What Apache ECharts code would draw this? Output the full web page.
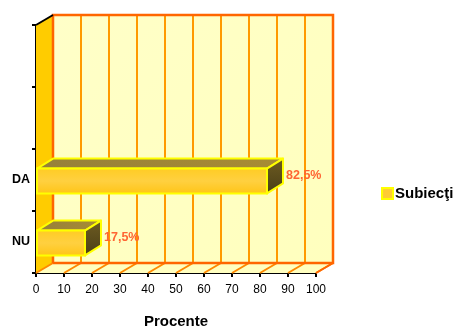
<!DOCTYPE html>
<html>
<head>
<meta charset="utf-8">
<style>
  html, body { margin: 0; padding: 0; background: #ffffff; }
  #chart { width: 459px; height: 329px; }
</style>
<script src="https://cdn.jsdelivr.net/npm/echarts@6/dist/echarts.min.js"></script>
</head>
<body>
<div id="chart"></div>
<script>
// Categories on the vertical axis, bottom to top
const categories = ['NU', 'DA', '', ''];
// Percentage of respondents per answer
const values = [17.5, 82.5];
const seriesName = 'Subiecţi';
// Percent scale ticks
const xTicks = [0, 10, 20, 30, 40, 50, 60, 70, 80, 90, 100];

const FONT = 'Liberation Sans, Arial, sans-serif';
const WALL_DX = 17, WALL_DY = 10;   // depth of the chart box
const BAR_DX = 16, BAR_DY = 10;     // depth of each bar

const chart = echarts.init(document.getElementById('chart'), null, { renderer: 'canvas' });

// Back wall, side wall, floor and gridlines of the 3D box
function renderBox(params, api) {
  const cs = params.coordSys;
  const L = cs.x, T = cs.y, R = cs.x + cs.width, B = cs.y + cs.height;
  const children = [];
  // side wall
  children.push({
    type: 'polygon',
    shape: { points: [[L, T], [L + WALL_DX, T - WALL_DY], [L + WALL_DX, B - WALL_DY], [L, B]] },
    style: { fill: '#FFCC00', stroke: null }
  });
  // floor
  children.push({
    type: 'polygon',
    shape: { points: [[L, B], [L + WALL_DX, B - WALL_DY], [R + WALL_DX, B - WALL_DY], [R, B]] },
    style: { fill: '#FFFFC0', stroke: null }
  });
  // back wall
  children.push({
    type: 'rect',
    shape: { x: L + WALL_DX, y: T - WALL_DY, width: R - L, height: B - T },
    style: {
      fill: new echarts.graphic.LinearGradient(0, 0, 1, 1, [
        { offset: 0, color: '#FFFFC8' },
        { offset: 1, color: '#FFFFBE' }
      ]),
      stroke: null
    }
  });
  // gridlines on the back wall and floor
  xTicks.forEach(function (t) {
    const x = api.coord([t, 0])[0];
    if (t > xTicks[0] && t < xTicks[xTicks.length - 1]) {
      children.push({
        type: 'line',
        shape: { x1: x + WALL_DX, y1: T - WALL_DY, x2: x + WALL_DX, y2: B - WALL_DY },
        style: { stroke: '#FF9900', lineWidth: 2 }
      });
    }
    children.push({
      type: 'line',
      shape: { x1: x, y1: B, x2: x + WALL_DX, y2: B - WALL_DY },
      style: { stroke: '#FF8800', lineWidth: 2 }
    });
  });
  // wall edges
  children.push({
    type: 'polyline',
    shape: { points: [[L + WALL_DX, B - WALL_DY], [L + WALL_DX, T - WALL_DY], [R + WALL_DX, T - WALL_DY], [R + WALL_DX, B - WALL_DY], [L + WALL_DX, B - WALL_DY]] },
    style: { stroke: '#FF6600', lineWidth: 2.5, fill: null }
  });
  children.push({
    type: 'line',
    shape: { x1: R, y1: B, x2: R + WALL_DX, y2: B - WALL_DY },
    style: { stroke: '#FF6600', lineWidth: 2 }
  });
  children.push({
    type: 'line',
    shape: { x1: L, y1: T, x2: L + WALL_DX, y2: T - WALL_DY },
    style: { stroke: '#000000', lineWidth: 2 }
  });
  return { type: 'group', children: children };
}

// A 3D bar: front face, top face and end face, plus the value label
function renderBar(params, api) {
  const val = api.value(0);
  const cat = api.value(1);
  const start = api.coord([0, cat]);
  const end = api.coord([val, cat]);
  const band = api.size([0, 1])[1];
  const half = band * 0.2;
  const yTop = start[1] - half + 1;
  const yBot = start[1] + half + 1;
  const x0 = start[0] + 1, x1 = end[0];
  const edge = '#FFFF00';
  const label = String(val).replace('.', ',') + '%';
  return {
    type: 'group',
    children: [
      {
        type: 'polygon',
        shape: { points: [[x0, yTop], [x0 + BAR_DX, yTop - BAR_DY], [x1 + BAR_DX, yTop - BAR_DY], [x1, yTop]] },
        style: {
          fill: new echarts.graphic.LinearGradient(0, 0, 1, 0, [
            { offset: 0, color: '#96803A' },
            { offset: 1, color: '#A88C34' }
          ]),
          stroke: edge, lineWidth: 2, lineJoin: 'round'
        }
      },
      {
        type: 'polygon',
        shape: { points: [[x1, yTop], [x1 + BAR_DX, yTop - BAR_DY], [x1 + BAR_DX, yBot - BAR_DY], [x1, yBot]] },
        style: {
          fill: new echarts.graphic.LinearGradient(0, 0, 0, 1, [
            { offset: 0, color: '#6E5C22' },
            { offset: 1, color: '#4A3E16' }
          ]),
          stroke: edge, lineWidth: 2, lineJoin: 'round'
        }
      },
      {
        type: 'rect',
        shape: { x: x0, y: yTop, width: x1 - x0, height: yBot - yTop },
        style: {
          fill: new echarts.graphic.LinearGradient(0, 0, 0, 1, [
            { offset: 0, color: '#FFCC22' },
            { offset: 0.5, color: '#FFD040' },
            { offset: 1, color: '#FFC414' }
          ]),
          stroke: edge, lineWidth: 2
        }
      },
      {
        type: 'text',
        style: {
          x: x1 + BAR_DX + 3,
          y: (yTop + yBot - BAR_DY) / 2,
          text: label,
          fill: '#FF6633',
          font: 'bold 12.5px ' + FONT,
          verticalAlign: 'middle',
          align: 'left'
        }
      }
    ]
  };
}

const option = {
  backgroundColor: '#ffffff',
  animation: false,
  grid: { left: 36, right: 143, top: 25, bottom: 56, containLabel: false, outerBoundsMode: 'none' },
  legend: {
    data: [seriesName],
    left: 381,
    top: 186,
    padding: 0,
    orient: 'vertical',
    icon: 'rect',
    itemWidth: 11,
    itemHeight: 11,
    itemGap: 4,
    itemStyle: { color: '#FFCC33', borderColor: '#FFFF00', borderWidth: 2 },
    textStyle: { fontFamily: FONT, fontWeight: 'bold', fontSize: 15, color: '#000000', padding: [0, 0, 0, -3] }
  },
  xAxis: {
    type: 'value',
    min: 0,
    max: 100,
    interval: 10,
    name: 'Procente',
    nameLocation: 'middle',
    nameGap: 41,
    nameTextStyle: { fontFamily: FONT, fontWeight: 'bold', fontSize: 15, color: '#000000' },
    axisLine: { show: true, lineStyle: { color: '#000000', width: 2 } },
    axisTick: { show: true, length: 4, lineStyle: { color: '#000000', width: 2 } },
    axisLabel: { fontFamily: FONT, fontSize: 12, color: '#000000', margin: 11 },
    splitLine: { show: false }
  },
  yAxis: {
    type: 'category',
    data: categories,
    boundaryGap: true,
    axisLine: { show: true, lineStyle: { color: '#000000', width: 2 } },
    axisTick: { show: true, length: 4, lineStyle: { color: '#000000', width: 2 } },
    axisLabel: { fontFamily: FONT, fontWeight: 'bold', fontSize: 12.5, color: '#000000', margin: 6 },
    splitLine: { show: false }
  },
  series: [
    {
      name: 'box',
      type: 'custom',
      renderItem: renderBox,
      data: [[0, 0]],
      silent: true,
      z: 1
    },
    {
      name: seriesName,
      type: 'custom',
      renderItem: renderBar,
      itemStyle: { color: '#FFCC33' },
      encode: { x: 0, y: 1 },
      data: values.map(function (v, i) { return [v, i]; }),
      z: 3
    }
  ]
};

chart.setOption(option);
</script>
</body>
</html>
